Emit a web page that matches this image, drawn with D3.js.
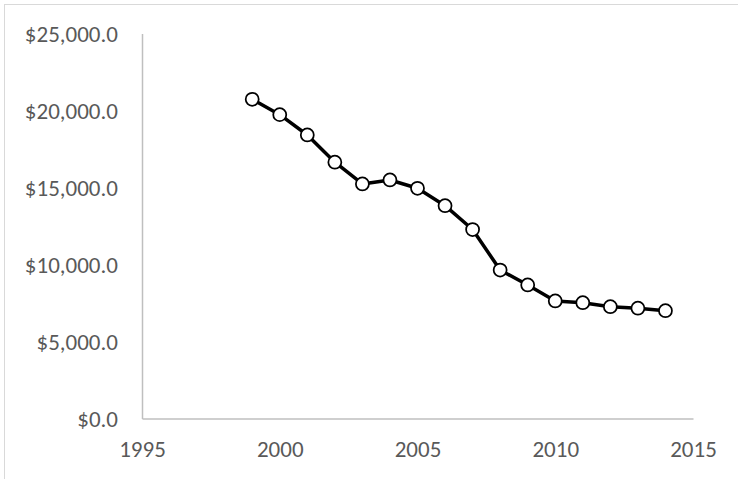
<!DOCTYPE html>
<html>
<head>
<meta charset="utf-8">
<script src="https://cdn.jsdelivr.net/npm/d3@7"></script>
<style>
  html, body { margin: 0; padding: 0; background: #fff; }
  svg { display: block; }
  .lbl { font-family: Calibri, Carlito, Lato, sans-serif; font-size: 23px; fill: #595959; }
</style>
</head>
<body>
<svg id="chart" width="738" height="479"></svg>
<script>
// Annual values, 1999–2014
const years = [1999, 2000, 2001, 2002, 2003, 2004, 2005, 2006, 2007, 2008, 2009, 2010, 2011, 2012, 2013, 2014];
const values = [20730, 19730, 18410, 16640, 15230, 15490, 14950, 13820, 12270, 9640, 8670, 7630, 7520, 7260, 7160, 7000];
const xTicks = [1995, 2000, 2005, 2010, 2015];
const yTicks = [0, 5000, 10000, 15000, 20000, 25000];

const svg = d3.select("#chart");

// outer chart frame
svg.append("rect")
  .attr("x", 4.5).attr("y", 4.5)
  .attr("width", 760).attr("height", 500)
  .attr("fill", "none").attr("stroke", "#d9d9d9").attr("stroke-width", 1);

const x = d3.scaleLinear().domain([1995, 2015]).range([142, 693]);
const y = d3.scaleLinear().domain([0, 25000]).range([418.5, 33.5]);

const fmt = v => "$" + d3.format(",.1f")(v);

// y axis
const yAxis = svg.append("g")
  .attr("transform", "translate(142,0)")
  .call(d3.axisLeft(y).tickValues(yTicks).tickFormat(fmt).tickSize(0).tickPadding(24));
yAxis.select(".domain").attr("stroke", "#bfbfbf").attr("stroke-width", 1.5);
yAxis.selectAll("text").attr("class", "lbl").attr("fill", null).attr("dy", "0.35em");

// x axis
const xAxis = svg.append("g")
  .attr("transform", "translate(0,418.5)")
  .call(d3.axisBottom(x).tickValues(xTicks).tickFormat(d3.format("d")).tickSize(0).tickPadding(30));
xAxis.select(".domain").attr("stroke", "#bfbfbf").attr("stroke-width", 1.5);
xAxis.selectAll("text").attr("class", "lbl").attr("fill", null).attr("dy", "0.35em");

const data = years.map((yr, i) => ({ yr, v: values[i] }));

// series line
svg.append("path")
  .datum(data)
  .attr("fill", "none")
  .attr("stroke", "#000")
  .attr("stroke-width", 3.5)
  .attr("stroke-linejoin", "round")
  .attr("d", d3.line().x(d => x(d.yr)).y(d => y(d.v)));

// markers
svg.append("g").selectAll("circle")
  .data(data)
  .join("circle")
  .attr("cx", d => x(d.yr))
  .attr("cy", d => y(d.v))
  .attr("r", 6.5)
  .attr("fill", "#fff")
  .attr("stroke", "#000")
  .attr("stroke-width", 1.75);
</script>
</body>
</html>
